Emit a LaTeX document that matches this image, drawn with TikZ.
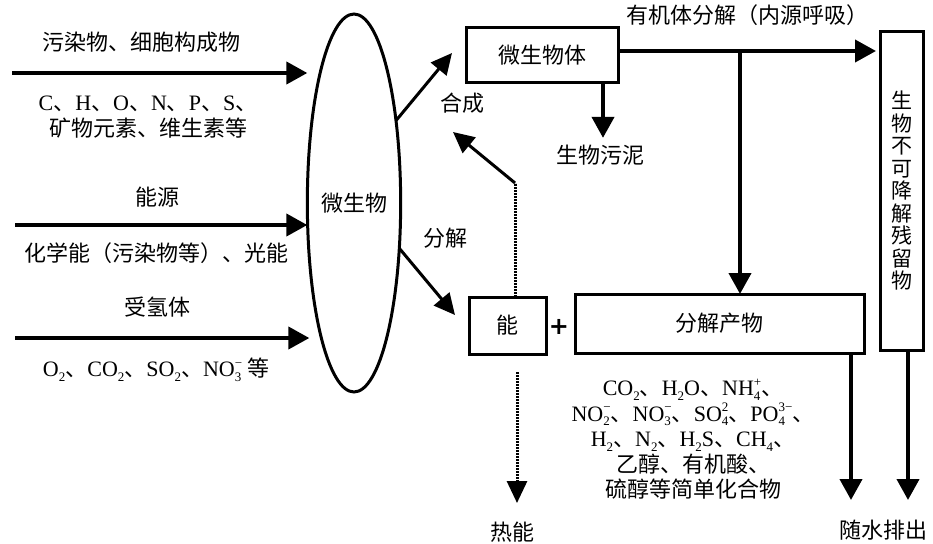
\documentclass[tikz,border=0pt]{standalone}
\usepackage{fontspec}
\setmainfont{Noto Sans CJK SC}
\newfontfamily\lat{Liberation Serif}
\newfontfamily\plusfont{DejaVu Sans}
\usetikzlibrary{arrows.meta,shapes.geometric}
\newcommand\la[1]{{\lat #1}}
\newcommand\sbs[1]{\raisebox{-4.5pt}{\fontsize{13}{13}\selectfont #1}}
\newcommand\sbsp[2]{\rlap{\sbs{#1}}\raisebox{9.5pt}{\fontsize{13}{13}\selectfont #2}}
\begin{document}
\begin{tikzpicture}[x=1pt,y=-1pt,
  every node/.style={inner sep=0pt, outer sep=0pt},
  lbl/.style={font=\fontsize{22}{25.5}\selectfont},
  box/.style={draw, line width=3pt, font=\fontsize{22}{26}\selectfont},
  arr/.style={line width=4pt, -{Triangle[length=21pt,width=22pt]}},
  thinarr/.style={line width=3pt, -{Triangle[length=21pt,width=20pt]}},
  dotl/.style={line width=3pt, dash pattern=on 2pt off 1pt},
]
\useasboundingbox (0,0) rectangle (933,543);

% central ellipse
\node[draw, ellipse, line width=3pt, minimum width=76pt, minimum height=378pt, lbl] (ell) at (354,203) {微生物};

% left labels
\node[lbl] (t1) at (141,42) {污染物、细胞构成物};
\node[lbl, align=center] (t2) at (148,117) {\la{C}、\la{H}、\la{O}、\la{N}、\la{P}、\la{S}、\\矿物元素、维生素等};
\node[lbl] (t3) at (157,197) {能源};
\node[lbl] (t4) at (156,253) {化学能（污染物等）、光能};
\node[lbl] (t5) at (157,307) {受氢体};
\node[lbl] (t6) at (156,370) {\la{O\sbs{2}}、\la{CO\sbs{2}}、\la{SO\sbs{2}}、\la{NO\sbsp{3}{−}} 等};

% input arrows
\coordinate (i1) at (12,73);
\coordinate (i2) at (15,225);
\coordinate (i3) at (15,338);
\draw[arr] (i1) -- (i1 -| ell.west);
\draw[arr] (i2) -- (i2 -| ell.west);
\draw[arr] (i3) -- ([xshift=2pt]i3 -| ell.west);

% right side boxes
\node[box, minimum width=152pt, minimum height=54pt] (mb) at (542,55) {微生物体};
\node[box, minimum width=77pt, minimum height=57pt] (neng) at (507.5,325.5) {能};
\node[font=\plusfont\bfseries\fontsize{24}{24}\selectfont] (plus) at (559,327) {+};
\node[box, minimum width=289pt, minimum height=59pt] (fj) at (719.5,323.5) {分解产物};
\node[box, minimum width=43pt, minimum height=318pt, align=center, font=\fontsize{21}{22.5}\selectfont] (res) at (901.5,191)
  {生\\物\\不\\可\\降\\解\\残\\留\\物};

% labels right
\node[lbl] (syn) at (462,103) {合成};
\node[lbl] (dec) at (445,238) {分解};
\node[lbl] (top) at (747,15) {有机体分解（内源呼吸）};
\node[lbl] (sl) at (600,155) {生物污泥};
\node[lbl] (heat) at (512,532) {热能};
\node[lbl] (out) at (883,530) {随水排出};
\node[lbl, align=center] (chem) at (693,439)
  {\la{CO\sbs{2}}、\la{H\sbs{2}O}、\la{NH\sbsp{4}{+}}、\\
   \la{NO\sbsp{2}{−}}、\la{NO\sbsp{3}{−}}、\la{SO\sbsp{4}{2}}、\la{PO\sbsp{4}{3−}}、\\
   \la{H\sbs{2}}、\la{N\sbs{2}}、\la{H\sbs{2}S}、\la{CH\sbs{4}}、\\
   乙醇、有机酸、\\
   硫醇等简单化合物};

% ellipse outputs
\coordinate (synTip) at (452,53);
\coordinate (decTip) at (455,315);
\draw[thinarr] (ell.63) -- (synTip);
\draw[thinarr] (ell.-45) -- (decTip);

% energy to synthesis (dotted then solid)
\coordinate (dk) at (515,183);
\coordinate (synIn) at (453,132);
\draw[dotl] (dk |- neng.north) -- (dk);
\draw[thinarr] (dk) -- (synIn);

% heat
\coordinate (hs) at (517,372);
\coordinate (ht) at (517,503);
\draw[dotl, -{Triangle[length=22pt,width=20pt]}] (hs) -- (ht);

% endogenous respiration
\coordinate (h0) at ([yshift=4pt]mb.east);
\draw[arr, shorten >=4pt] (h0) -- (h0 -| res.west);
\coordinate (j1) at (740,51);
\draw[arr] (j1) -- (j1 |- fj.north);

% sludge
\coordinate (sd) at ([xshift=61pt]mb.south);
\draw[arr, shorten >=7pt] (sd) -- (sd |- sl.north);

% outflow
\coordinate (o1) at ([xshift=-13pt]fj.south east);
\coordinate (o1t) at (851,500);
\coordinate (o2) at ([xshift=6.5pt]res.south);
\coordinate (o2t) at (908,500);
\draw[arr] (o1) -- (o1t);
\draw[arr] (o2) -- (o2t);
\end{tikzpicture}
\end{document}
